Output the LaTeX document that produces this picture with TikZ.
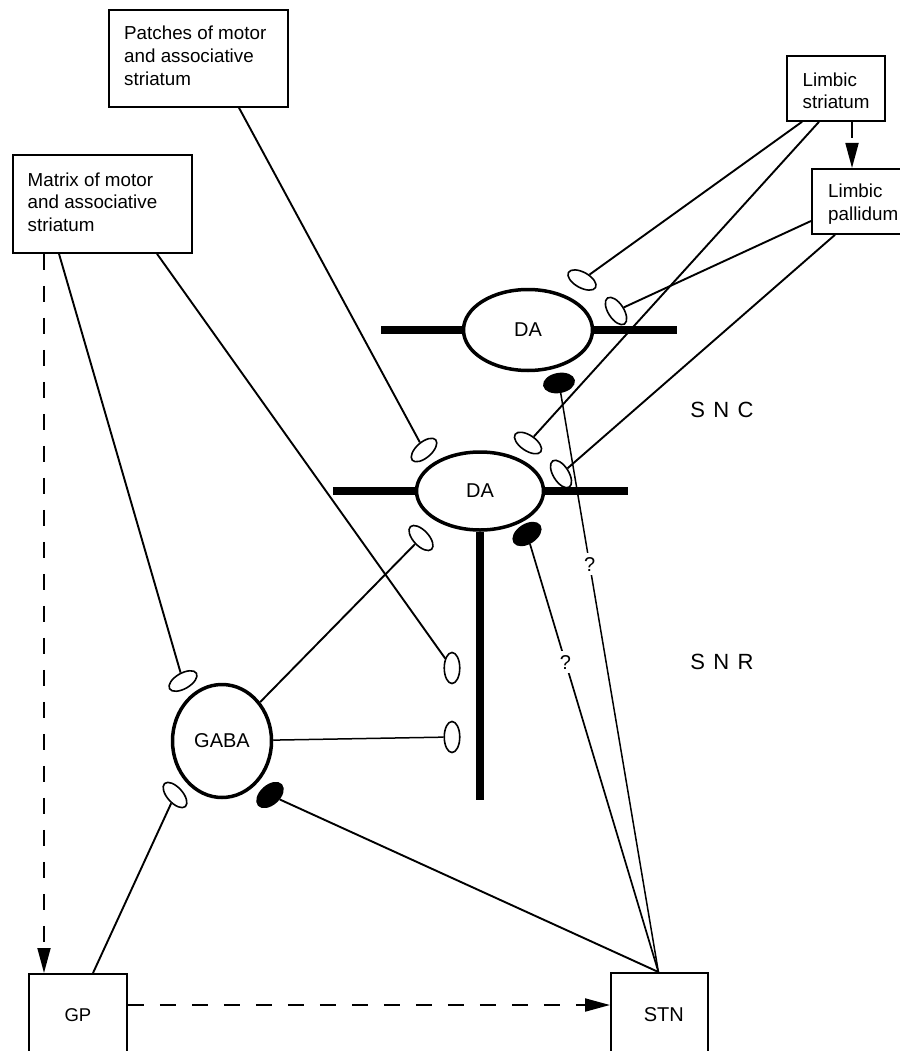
\documentclass[tikz,border=0pt]{standalone}
\usepackage{fontspec}
\setmainfont{Liberation Sans}
\usetikzlibrary{shapes.geometric,arrows.meta,calc}
\begin{document}
\begin{tikzpicture}[x=1pt,y=-1pt,
  box/.style={draw, line width=1.8pt, inner sep=0pt, anchor=north west},
  boxtext/.style={inner sep=0pt, anchor=north west, align=left, font=\fontsize{18.8}{22.6}\selectfont},
  cell/.style={ellipse, draw, line width=3.5pt, fill=white, inner sep=0pt, font=\fontsize{20}{24}\selectfont},
  dend/.style={line width=7.5pt},
  bout/.style={ellipse, draw, line width=1.6pt, fill=white, minimum width=31pt, minimum height=15.5pt, inner sep=0pt},
  boutk/.style={ellipse, draw, line width=1.2pt, fill=black, minimum width=31pt, minimum height=19pt, inner sep=0pt},
  axon/.style={line width=1.9pt},
  dsh/.style={line width=1.8pt, dash pattern=on 16pt off 16pt, -{Triangle[length=25pt,width=13pt]}},
  qm/.style={fill=white, inner sep=4pt, font=\fontsize{20}{22}\selectfont},
  region/.style={font=\fontsize{22}{26}\selectfont}
]
\path[use as bounding box, fill=white] (0,0) rectangle (899,1051);

% boxes
\node[box, minimum width=179pt, minimum height=97pt] (patches) at (108,9) {};
\node[box, minimum width=179pt, minimum height=98pt] (matrix) at (12,154) {};
\node[box, minimum width=98pt, minimum height=65pt] (lstr) at (786,55) {};
\node[box, minimum width=100pt, minimum height=65pt] (lpal) at (811,168) {};
\node[box, minimum width=98pt, minimum height=82pt, font=\fontsize{18.5}{22}\selectfont] (gp) at (28,973) {GP\hspace{6pt}};
\node[box, minimum width=97pt, minimum height=83pt, font=\fontsize{20}{24}\selectfont] (stn) at (610,972) {\hspace{9pt}STN};

\node[boxtext] (patchesT) at (124,26) {Patches of motor\\and associative\\striatum};
\node[boxtext] (matrixT) at (27.5,172.5) {Matrix of motor\\and associative\\striatum};
\node[boxtext] (lstrT) at (802.5,72.5) {Limbic\\striatum};
\node[boxtext] (lpalT) at (828,184) {Limbic\\pallidum};

% cells
\node[cell, minimum width=129pt, minimum height=81pt] (da1) at (528,330) {DA};
\node[cell, minimum width=127pt, minimum height=78pt] (da2) at (480,491) {DA};
\node[cell, minimum width=99pt, minimum height=113pt] (gaba) at (222,741) {GABA};

% dendrites
\coordinate (d1l) at (381,330);
\coordinate (d1r) at (677,330);
\coordinate (d2l) at (333,491);
\coordinate (d2r) at (628,491);
\coordinate (d2b) at (480,800);
\draw[dend] (d1l) -- (da1.west);
\draw[dend] (da1.east) -- (d1r);
\draw[dend] (d2l) -- (da2.west);
\draw[dend] (da2.east) -- (d2r);
\draw[dend] (da2.south) -- (d2b);

% boutons
\node[bout, rotate=30] (bgm) at (183,681) {};
\node[bout, rotate=-48] (bgg) at (175,795) {};
\node[bout, rotate=-47] (bdg) at (421,538) {};
\node[bout, rotate=90] (bm2) at (452,668) {};
\node[bout, rotate=90] (bgr) at (452,737) {};
\node[bout, rotate=41] (bp) at (424,450) {};
\node[bout, rotate=-34] (bls2) at (528,443) {};
\node[bout, rotate=-58] (blp2) at (561,474) {};
\node[bout, rotate=-29] (bls1) at (582,280) {};
\node[bout, rotate=-57] (blp1) at (616,311) {};
\node[boutk, rotate=10] (k1) at (559,383) {};
\node[boutk, rotate=33] (k2) at (527,534) {};
\node[boutk, rotate=42] (k3) at (270,795) {};

% axon start points on boxes
\coordinate (m1) at ($(matrix.south west)+(47,0)$);
\coordinate (m2) at ($(matrix.south west)+(145,0)$);
\coordinate (p1) at ($(patches.south west)+(131,0)$);
\coordinate (ls1) at ($(lstr.south west)+(16,0)$);
\coordinate (ls2) at ($(lstr.south west)+(33,0)$);
\coordinate (lp1) at ($(lpal.north west)+(0,53)$);
\coordinate (lp2) at ($(lpal.south west)+(24,0)$);
\coordinate (g1) at ($(gp.north west)+(65,0)$);
\coordinate (s0) at ($(stn.north)+(-1,0)$);

% axons
\draw[axon] (m1) -- (bgm);
\draw[axon] (m2) -- (bm2);
\draw[axon] (p1) -- (bp);
\draw[axon] (ls1) -- (bls1);
\draw[axon] (ls2) -- (bls2);
\draw[axon] (lp1) -- (blp1);
\draw[axon] (lp2) -- (blp2);
\draw[axon] (gaba) -- (bdg);
\draw[axon, line width=1.5pt] (gaba) -- (bgr);
\draw[axon] (g1) -- (bgg);
\draw[axon] (s0) -- (k3);
\draw[axon, line width=1.7pt] (k2) -- node[qm, pos=0.276] (q2) {?} (s0);
\draw[axon, line width=1.5pt] (k1) -- node[qm, pos=0.296] (q1) {?} (s0);

% dashed projections
\draw[dsh] ($(matrix.south west)+(32,0)$) -- ($(gp.north west)+(16,0)$);
\draw[dsh, line width=2pt] ($(gp.north east)+(0,32)$) -- ($(stn.north west)+(0,33)$);
\draw[dsh] ($(lstr.south west)+(66,0)$) -- ($(lpal.north west)+(41,0)$);

% region labels
\node[region] (snc) at (722,410) {S\hspace{0.38em}N\hspace{0.38em}C};
\node[region] (snr) at (722,662) {S\hspace{0.38em}N\hspace{0.38em}R};
\end{tikzpicture}
\end{document}
